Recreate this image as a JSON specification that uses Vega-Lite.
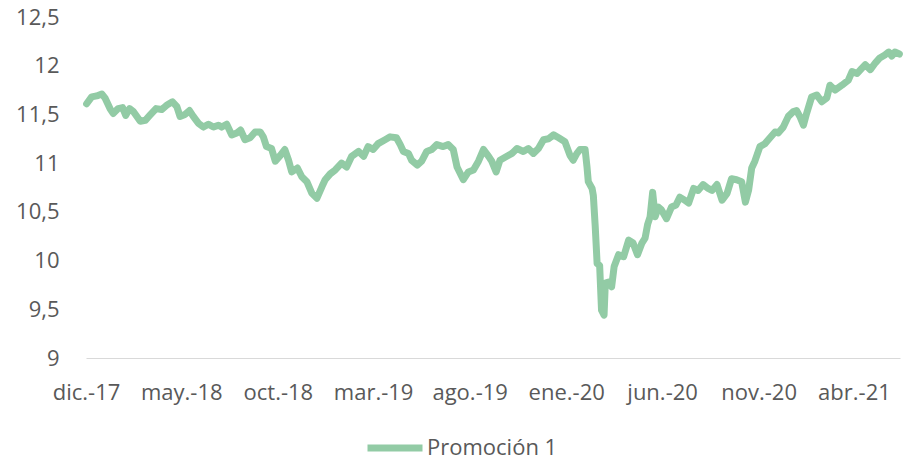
{
  "$schema": "https://vega.github.io/schema/vega-lite/v6.json",
  "autosize": {"type": "none"},
  "padding": {"left": 86, "top": 17, "right": 9, "bottom": 105},
  "width": 814,
  "height": 341,
  "background": "white",
  "config": {
    "view": {"stroke": null},
    "font": "Open Sans",
    "axis": {"labelFont": "Open Sans", "labelColor": "#595959", "labelFontSize": 22, "ticks": false, "grid": false},
    "legend": {"labelFont": "Open Sans", "labelColor": "#595959", "labelFontSize": 22}
  },
  "data": {"values": [
    {"fecha": "2017-12-02", "valor": 11.61},
    {"fecha": "2017-12-10", "valor": 11.68},
    {"fecha": "2017-12-18", "valor": 11.69},
    {"fecha": "2017-12-26", "valor": 11.71},
    {"fecha": "2017-12-31", "valor": 11.67},
    {"fecha": "2018-01-08", "valor": 11.56},
    {"fecha": "2018-01-13", "valor": 11.51},
    {"fecha": "2018-01-21", "valor": 11.56},
    {"fecha": "2018-01-28", "valor": 11.57},
    {"fecha": "2018-02-02", "valor": 11.49},
    {"fecha": "2018-02-08", "valor": 11.56},
    {"fecha": "2018-02-14", "valor": 11.53},
    {"fecha": "2018-02-25", "valor": 11.43},
    {"fecha": "2018-03-05", "valor": 11.44},
    {"fecha": "2018-03-12", "valor": 11.49},
    {"fecha": "2018-03-22", "valor": 11.56},
    {"fecha": "2018-03-31", "valor": 11.55},
    {"fecha": "2018-04-09", "valor": 11.60},
    {"fecha": "2018-04-17", "valor": 11.63},
    {"fecha": "2018-04-24", "valor": 11.58},
    {"fecha": "2018-04-29", "valor": 11.48},
    {"fecha": "2018-05-07", "valor": 11.50},
    {"fecha": "2018-05-14", "valor": 11.54},
    {"fecha": "2018-05-20", "valor": 11.48},
    {"fecha": "2018-05-28", "valor": 11.41},
    {"fecha": "2018-06-05", "valor": 11.37},
    {"fecha": "2018-06-13", "valor": 11.40},
    {"fecha": "2018-06-21", "valor": 11.37},
    {"fecha": "2018-06-29", "valor": 11.39},
    {"fecha": "2018-07-04", "valor": 11.37},
    {"fecha": "2018-07-12", "valor": 11.40},
    {"fecha": "2018-07-20", "valor": 11.29},
    {"fecha": "2018-07-28", "valor": 11.31},
    {"fecha": "2018-08-03", "valor": 11.34},
    {"fecha": "2018-08-10", "valor": 11.24},
    {"fecha": "2018-08-18", "valor": 11.26},
    {"fecha": "2018-08-26", "valor": 11.32},
    {"fecha": "2018-09-03", "valor": 11.32},
    {"fecha": "2018-09-08", "valor": 11.27},
    {"fecha": "2018-09-13", "valor": 11.17},
    {"fecha": "2018-09-21", "valor": 11.15},
    {"fecha": "2018-09-27", "valor": 11.02},
    {"fecha": "2018-10-05", "valor": 11.08},
    {"fecha": "2018-10-12", "valor": 11.14},
    {"fecha": "2018-10-18", "valor": 11.03},
    {"fecha": "2018-10-23", "valor": 10.91},
    {"fecha": "2018-11-01", "valor": 10.95},
    {"fecha": "2018-11-08", "valor": 10.86},
    {"fecha": "2018-11-16", "valor": 10.81},
    {"fecha": "2018-11-24", "valor": 10.69},
    {"fecha": "2018-12-02", "valor": 10.64},
    {"fecha": "2018-12-10", "valor": 10.76},
    {"fecha": "2018-12-15", "valor": 10.83},
    {"fecha": "2018-12-23", "valor": 10.89},
    {"fecha": "2018-12-31", "valor": 10.93},
    {"fecha": "2019-01-10", "valor": 11.00},
    {"fecha": "2019-01-18", "valor": 10.96},
    {"fecha": "2019-01-26", "valor": 11.07},
    {"fecha": "2019-02-06", "valor": 11.12},
    {"fecha": "2019-02-14", "valor": 11.07},
    {"fecha": "2019-02-21", "valor": 11.17},
    {"fecha": "2019-03-01", "valor": 11.14},
    {"fecha": "2019-03-09", "valor": 11.20},
    {"fecha": "2019-03-20", "valor": 11.24},
    {"fecha": "2019-03-28", "valor": 11.27},
    {"fecha": "2019-04-07", "valor": 11.26},
    {"fecha": "2019-04-13", "valor": 11.19},
    {"fecha": "2019-04-18", "valor": 11.12},
    {"fecha": "2019-04-26", "valor": 11.10},
    {"fecha": "2019-05-01", "valor": 11.03},
    {"fecha": "2019-05-10", "valor": 10.98},
    {"fecha": "2019-05-17", "valor": 11.02},
    {"fecha": "2019-05-25", "valor": 11.12},
    {"fecha": "2019-06-02", "valor": 11.14},
    {"fecha": "2019-06-10", "valor": 11.19},
    {"fecha": "2019-06-20", "valor": 11.17},
    {"fecha": "2019-06-28", "valor": 11.19},
    {"fecha": "2019-07-06", "valor": 11.14},
    {"fecha": "2019-07-12", "valor": 10.96},
    {"fecha": "2019-07-22", "valor": 10.83},
    {"fecha": "2019-07-30", "valor": 10.91},
    {"fecha": "2019-08-07", "valor": 10.93},
    {"fecha": "2019-08-15", "valor": 11.02},
    {"fecha": "2019-08-23", "valor": 11.14},
    {"fecha": "2019-08-31", "valor": 11.07},
    {"fecha": "2019-09-05", "valor": 11.02},
    {"fecha": "2019-09-12", "valor": 10.91},
    {"fecha": "2019-09-18", "valor": 11.03},
    {"fecha": "2019-09-29", "valor": 11.07},
    {"fecha": "2019-10-07", "valor": 11.10},
    {"fecha": "2019-10-15", "valor": 11.15},
    {"fecha": "2019-10-25", "valor": 11.12},
    {"fecha": "2019-11-02", "valor": 11.15},
    {"fecha": "2019-11-10", "valor": 11.10},
    {"fecha": "2019-11-18", "valor": 11.15},
    {"fecha": "2019-11-26", "valor": 11.24},
    {"fecha": "2019-12-04", "valor": 11.25},
    {"fecha": "2019-12-12", "valor": 11.29},
    {"fecha": "2019-12-20", "valor": 11.26},
    {"fecha": "2019-12-30", "valor": 11.22},
    {"fecha": "2020-01-07", "valor": 11.08},
    {"fecha": "2020-01-12", "valor": 11.03},
    {"fecha": "2020-01-18", "valor": 11.10},
    {"fecha": "2020-01-23", "valor": 11.14},
    {"fecha": "2020-01-31", "valor": 11.14},
    {"fecha": "2020-02-03", "valor": 10.96},
    {"fecha": "2020-02-05", "valor": 10.81},
    {"fecha": "2020-02-11", "valor": 10.74},
    {"fecha": "2020-02-13", "valor": 10.67},
    {"fecha": "2020-02-16", "valor": 10.35},
    {"fecha": "2020-02-19", "valor": 9.97},
    {"fecha": "2020-02-23", "valor": 9.95},
    {"fecha": "2020-02-26", "valor": 9.49},
    {"fecha": "2020-03-01", "valor": 9.44},
    {"fecha": "2020-03-03", "valor": 9.77},
    {"fecha": "2020-03-08", "valor": 9.78},
    {"fecha": "2020-03-13", "valor": 9.73},
    {"fecha": "2020-03-17", "valor": 9.94},
    {"fecha": "2020-03-24", "valor": 10.06},
    {"fecha": "2020-04-01", "valor": 10.04},
    {"fecha": "2020-04-09", "valor": 10.21},
    {"fecha": "2020-04-16", "valor": 10.18},
    {"fecha": "2020-04-23", "valor": 10.06},
    {"fecha": "2020-04-30", "valor": 10.18},
    {"fecha": "2020-05-05", "valor": 10.23},
    {"fecha": "2020-05-09", "valor": 10.37},
    {"fecha": "2020-05-13", "valor": 10.45},
    {"fecha": "2020-05-17", "valor": 10.70},
    {"fecha": "2020-05-21", "valor": 10.45},
    {"fecha": "2020-05-26", "valor": 10.55},
    {"fecha": "2020-05-31", "valor": 10.52},
    {"fecha": "2020-06-08", "valor": 10.43},
    {"fecha": "2020-06-16", "valor": 10.55},
    {"fecha": "2020-06-23", "valor": 10.57},
    {"fecha": "2020-06-29", "valor": 10.65},
    {"fecha": "2020-07-07", "valor": 10.62},
    {"fecha": "2020-07-13", "valor": 10.59},
    {"fecha": "2020-07-21", "valor": 10.74},
    {"fecha": "2020-07-28", "valor": 10.72},
    {"fecha": "2020-08-05", "valor": 10.78},
    {"fecha": "2020-08-13", "valor": 10.74},
    {"fecha": "2020-08-19", "valor": 10.72},
    {"fecha": "2020-08-27", "valor": 10.78},
    {"fecha": "2020-09-04", "valor": 10.62},
    {"fecha": "2020-09-12", "valor": 10.69},
    {"fecha": "2020-09-19", "valor": 10.84},
    {"fecha": "2020-09-27", "valor": 10.83},
    {"fecha": "2020-10-05", "valor": 10.81},
    {"fecha": "2020-10-11", "valor": 10.60},
    {"fecha": "2020-10-16", "valor": 10.72},
    {"fecha": "2020-10-21", "valor": 10.95},
    {"fecha": "2020-10-26", "valor": 11.02},
    {"fecha": "2020-11-03", "valor": 11.17},
    {"fecha": "2020-11-11", "valor": 11.20},
    {"fecha": "2020-11-19", "valor": 11.26},
    {"fecha": "2020-11-27", "valor": 11.32},
    {"fecha": "2020-12-02", "valor": 11.31},
    {"fecha": "2020-12-10", "valor": 11.37},
    {"fecha": "2020-12-18", "valor": 11.48},
    {"fecha": "2020-12-26", "valor": 11.53},
    {"fecha": "2020-12-31", "valor": 11.54},
    {"fecha": "2021-01-06", "valor": 11.47},
    {"fecha": "2021-01-11", "valor": 11.39},
    {"fecha": "2021-01-16", "valor": 11.51},
    {"fecha": "2021-01-24", "valor": 11.68},
    {"fecha": "2021-02-01", "valor": 11.70},
    {"fecha": "2021-02-09", "valor": 11.63},
    {"fecha": "2021-02-17", "valor": 11.67},
    {"fecha": "2021-02-22", "valor": 11.80},
    {"fecha": "2021-03-02", "valor": 11.75},
    {"fecha": "2021-03-13", "valor": 11.80},
    {"fecha": "2021-03-23", "valor": 11.85},
    {"fecha": "2021-03-29", "valor": 11.94},
    {"fecha": "2021-04-06", "valor": 11.92},
    {"fecha": "2021-04-13", "valor": 11.97},
    {"fecha": "2021-04-19", "valor": 12.01},
    {"fecha": "2021-04-27", "valor": 11.96},
    {"fecha": "2021-05-05", "valor": 12.03},
    {"fecha": "2021-05-12", "valor": 12.08},
    {"fecha": "2021-05-20", "valor": 12.11},
    {"fecha": "2021-05-26", "valor": 12.14},
    {"fecha": "2021-05-31", "valor": 12.10},
    {"fecha": "2021-06-05", "valor": 12.14},
    {"fecha": "2021-06-12", "valor": 12.12}
  ]},
  "mark": {"type": "line", "strokeWidth": 7, "strokeJoin": "round", "strokeCap": "round"},
  "encoding": {
    "x": {
      "field": "fecha",
      "type": "temporal",
      "title": null,
      "scale": {
        "type": "utc",
        "domain": [
          {"year": 2017, "month": 12, "date": 1, "utc": true},
          {"year": 2021, "month": 6, "date": 13, "utc": true}
        ]
      },
      "axis": {
        "values": [
          {"year": 2017, "month": 12, "date": 1, "utc": true},
          {"year": 2018, "month": 5, "date": 1, "utc": true},
          {"year": 2018, "month": 10, "date": 1, "utc": true},
          {"year": 2019, "month": 3, "date": 1, "utc": true},
          {"year": 2019, "month": 8, "date": 1, "utc": true},
          {"year": 2020, "month": 1, "date": 1, "utc": true},
          {"year": 2020, "month": 6, "date": 1, "utc": true},
          {"year": 2020, "month": 11, "date": 1, "utc": true},
          {"year": 2021, "month": 4, "date": 1, "utc": true}
        ],
        "labelExpr": "['ene.','feb.','mar.','abr.','may.','jun.','jul.','ago.','sep.','oct.','nov.','dic.'][utcmonth(datum.value)] + '-' + utcFormat(datum.value, '%y')",
        "domain": true,
        "domainColor": "#d9d9d9",
        "domainWidth": 1,
        "labelPadding": 24,
        "labelFlush": false,
        "labelOverlap": false
      }
    },
    "y": {
      "field": "valor",
      "type": "quantitative",
      "title": null,
      "scale": {"domain": [9, 12.5], "nice": false, "zero": false},
      "axis": {
        "values": [9, 9.5, 10, 10.5, 11, 11.5, 12, 12.5],
        "labelExpr": "replace(toString(datum.value), '.', ',')",
        "domain": false,
        "labelPadding": 27
      }
    },
    "color": {
      "datum": "Promoción 1",
      "type": "nominal",
      "scale": {"range": ["#92cba5"]},
      "legend": {
        "title": null,
        "orient": "none",
        "legendX": 278,
        "legendY": 400,
        "symbolType": "stroke",
        "symbolSize": 3025,
        "symbolStrokeWidth": 7,
        "labelOffset": 1
      }
    }
  }
}
